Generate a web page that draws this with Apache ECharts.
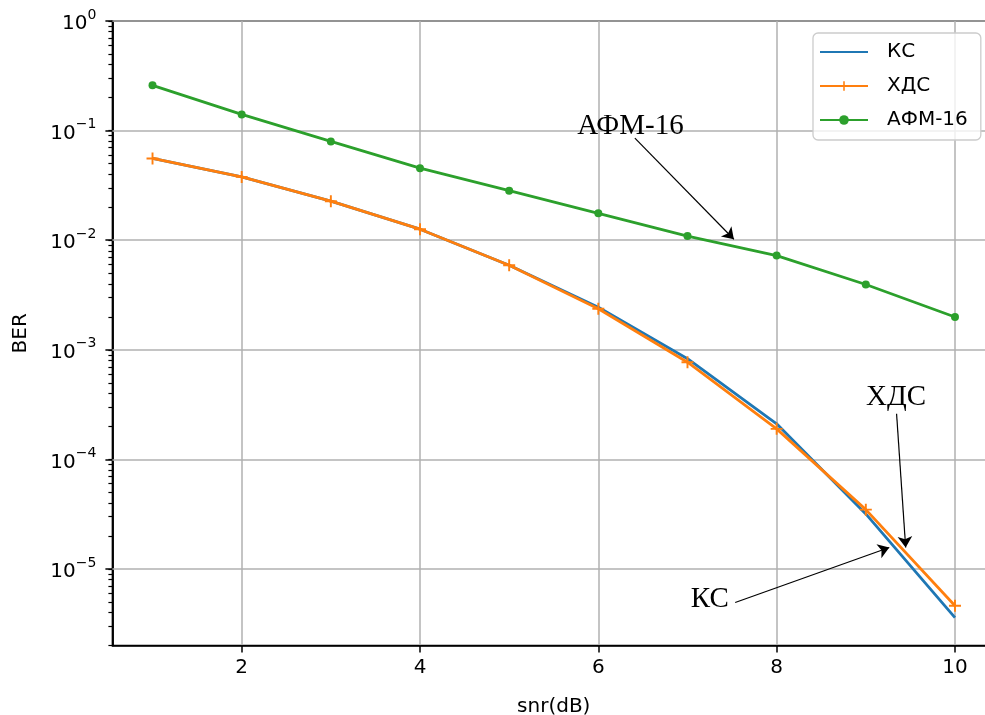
<!DOCTYPE html>
<html>
<head>
<meta charset="utf-8">
<script src="https://cdn.jsdelivr.net/npm/echarts@6/dist/echarts.min.js"></script>
<style>
html,body{margin:0;padding:0;background:#fff;}
#chart{width:985px;height:715px;}
</style>
</head>
<body>
<div id="chart"></div>
<script>
// ---- data ----
const snr = [1, 2, 3, 4, 5, 6, 7, 8, 9, 10];
const berKS  = [0.0557, 0.0378, 0.0227, 0.0126, 0.0059, 0.00245, 0.00083, 0.000211, 3.18e-5, 3.6e-6];
const berHDS = [0.0557, 0.0378, 0.0227, 0.0126, 0.0059, 0.00237, 0.00077, 0.00019, 3.48e-5, 4.62e-6];
const berAFM = [0.259, 0.1405, 0.0797, 0.0454, 0.0283, 0.0176, 0.0109, 0.00724, 0.00394, 0.00199];
const seriesNames = ['КС', 'ХДС', 'АФМ-16'];
const xTicks = [2, 4, 6, 8, 10];
const yMajorTicks = [1e-5, 1e-4, 1e-3, 1e-2, 1e-1, 1];
const yMinorTicks = [
  2e-6, 3e-6, 4e-6, 5e-6, 6e-6, 7e-6, 8e-6, 9e-6,
  2e-5, 3e-5, 4e-5, 5e-5, 6e-5, 7e-5, 8e-5, 9e-5,
  2e-4, 3e-4, 4e-4, 5e-4, 6e-4, 7e-4, 8e-4, 9e-4,
  2e-3, 3e-3, 4e-3, 5e-3, 6e-3, 7e-3, 8e-3, 9e-3,
  2e-2, 3e-2, 4e-2, 5e-2, 6e-2, 7e-2, 8e-2, 9e-2,
  0.2, 0.3, 0.4, 0.5, 0.6, 0.7, 0.8, 0.9
];
const yMin = 2e-6, yMax = 1;
const xMin = 0.55, xMax = 10.45;
// annotations: label, text position, arrow start, arrow head (data coords)
const annAFM = { text: 'АФМ-16', at: [6.36, 0.110], from: [6.41, 0.0853], to: [7.52, 0.0102] };
const annHDS = { text: 'ХДС', at: [9.34, 3.67e-4], from: [9.345, 2.61e-4], to: [9.447, 1.57e-5] };
const annKS  = { text: 'КС', at: [7.25, 5.3e-6], from: [7.535, 4.95e-6], to: [9.263, 1.57e-5] };

const colors = ['#1f77b4', '#ff7f0e', '#2ca02c'];
const plusPath = 'path://M4.2,0H5.8V4.2H10V5.8H5.8V10H4.2V5.8H0V4.2H4.2Z';

function pairs(ys) { return snr.map((x, i) => [x, ys[i]]); }

function annMarks(anns) {
  return {
    markLine: {
      silent: true,
      symbol: ['none', 'arrow'],
      symbolSize: 11,
      label: { show: false },
      lineStyle: { color: '#000', width: 1.2, type: 'solid' },
      emphasis: { disabled: true },
      animation: false,
      data: anns.map(a => [{ coord: a.from }, { coord: a.to }])
    },
    markPoint: {
      silent: true,
      symbol: 'rect',
      symbolSize: 1,
      itemStyle: { color: 'rgba(0,0,0,0)' },
      animation: false,
      label: {
        show: true, position: 'inside',
        fontFamily: 'Liberation Serif', fontSize: 29, color: '#000'
      },
      data: anns.map(a => ({ coord: a.at, label: { formatter: a.text } }))
    }
  };
}

const gridLeft = 112.4, gridRight = -10.1;

const chart = echarts.init(document.getElementById('chart'), null, { renderer: 'canvas' });
const font = 'DejaVu Sans';
chart.setOption({
  animation: false,
  backgroundColor: '#fff',
  grid: {
    left: gridLeft, top: 21, right: gridRight, bottom: 69.4,
    show: true, borderColor: '#000', borderWidth: 1.5, containLabel: false,
    outerBoundsMode: 'none'
  },
  legend: {
    orient: 'vertical',
    left: 813, top: 33,
    data: [
      { name: seriesNames[0], itemStyle: { color: 'rgba(0,0,0,0)', borderWidth: 0 } },
      { name: seriesNames[1] },
      { name: seriesNames[2] }
    ],
    backgroundColor: 'rgba(255,255,255,0.8)',
    borderColor: '#cccccc', borderWidth: 1.3, borderRadius: 5,
    padding: [9, 13, 10, 6],
    itemWidth: 48, itemHeight: 12, itemGap: 14,
    textStyle: { fontFamily: font, fontSize: 20, color: '#000', padding: [0, 0, 0, 14] }
  },
  xAxis: {
    type: 'value', min: xMin, max: xMax,
    name: 'snr(dB)', nameLocation: 'middle', nameGap: 51,
    nameTextStyle: { fontFamily: font, fontSize: 20, color: '#000' },
    axisLine: { show: true, onZero: false, lineStyle: { color: '#000', width: 1.5 } },
    axisTick: { show: true, length: 7, customValues: xTicks, lineStyle: { color: '#000', width: 1.5 } },
    axisLabel: { customValues: xTicks, margin: 12, fontFamily: font, fontSize: 20, color: '#000' },
    splitLine: { show: true, lineStyle: { color: '#b0b0b0', width: 1.5 } }
  },
  yAxis: [{
    type: 'log', logBase: 10, min: yMin, max: yMax,
    name: 'BER', nameLocation: 'middle', nameGap: 82, nameRotate: 90,
    nameTextStyle: { fontFamily: font, fontSize: 20, color: '#000' },
    axisLine: { show: true, lineStyle: { color: '#000', width: 1.5 } },
    axisTick: { show: true, length: 4, customValues: yMajorTicks.concat(yMinorTicks), lineStyle: { color: '#000', width: 1.2 } },
    axisLabel: {
      customValues: yMajorTicks, margin: 16,
      formatter: function (v) {
        const e = Math.round(Math.log10(v));
        return '{b|10}{s|' + (e < 0 ? '\u2212' : '') + Math.abs(e) + '}';
      },
      rich: {
        b: { fontFamily: font, fontSize: 20, color: '#000', verticalAlign: 'bottom', lineHeight: 26 },
        s: { fontFamily: font, fontSize: 14, color: '#000', verticalAlign: 'top', lineHeight: 26 }
      }
    },
    splitLine: { show: false }
  }, {
    // longer major ticks, on a linear axis of decades (exponents) over the same span
    type: 'value', min: Math.log10(yMin), max: Math.log10(yMax), position: 'left', offset: 0,
    axisLine: { show: true, lineStyle: { color: '#000', width: 1.5 } },
    axisTick: { show: true, length: 7, customValues: yMajorTicks.map(Math.log10), lineStyle: { color: '#000', width: 1.5 } },
    axisLabel: { show: false },
    splitLine: { show: false }
  }],
  series: [
    {
      // horizontal major grid lines at the decades
      name: 'ygrid', type: 'line', data: pairs(berKS), silent: true, z: 1,
      symbol: 'none', lineStyle: { opacity: 0 },
      markLine: {
        silent: true, z: 1, symbol: ['none', 'none'], animation: false,
        label: { show: false }, emphasis: { disabled: true },
        lineStyle: { color: '#b0b0b0', width: 1.5, type: 'solid' },
        data: yMajorTicks.map(v => [{ coord: [xMin, v] }, { coord: [xMax, v] }])
      }
    },
    Object.assign({
      name: seriesNames[0], type: 'line', data: pairs(berKS),
      symbol: 'none', color: colors[0],
      lineStyle: { width: 2.8, color: colors[0] }, z: 3
    }, annMarks([annKS])),
    Object.assign({
      name: seriesNames[1], type: 'line', data: pairs(berHDS),
      symbol: plusPath, symbolSize: 12, color: colors[1],
      itemStyle: { color: colors[1] },
      lineStyle: { width: 2.8, color: colors[1] }, z: 4
    }, annMarks([annHDS])),
    Object.assign({
      name: seriesNames[2], type: 'line', data: pairs(berAFM),
      symbol: 'circle', symbolSize: 8, color: colors[2],
      itemStyle: { color: colors[2] },
      lineStyle: { width: 2.8, color: colors[2] }, z: 5
    }, annMarks([annAFM])),
    {
      // invisible helper so the decade axis is not blank
      name: 'helper', type: 'line', yAxisIndex: 1, silent: true,
      data: snr.map((x, i) => [x, Math.log10(berAFM[i])]),
      symbol: 'none', lineStyle: { opacity: 0 }, tooltip: { show: false }
    }
  ]
});
</script>
</body>
</html>
